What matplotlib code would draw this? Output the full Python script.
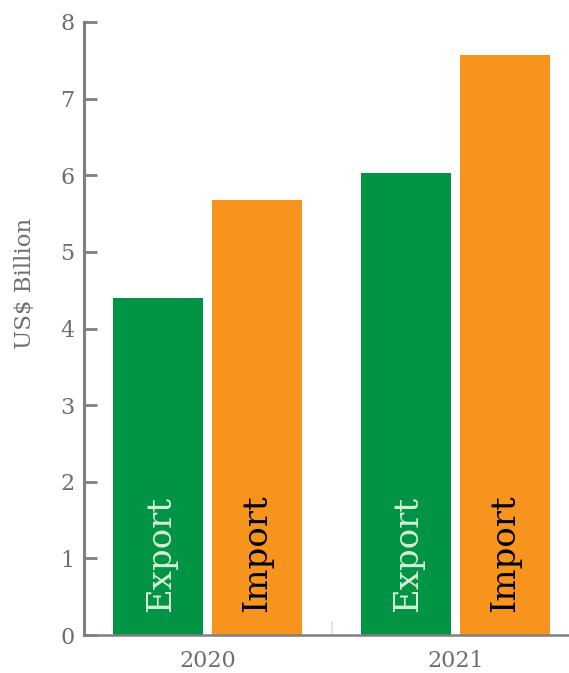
import numpy as np
import matplotlib.pyplot as plt

# trade values, US$ billion
years = ['2020', '2021']
export_vals = [4.40, 6.03]
import_vals = [5.68, 7.57]

green = '#009444'
orange = '#f7941d'
grey = '#7f7f80'

plt.rcParams['font.family'] = ['DejaVu Serif']

fig = plt.figure(figsize=(5.69, 6.73), dpi=100)
ax = fig.add_axes([84 / 569, 38 / 673, 485 / 569, 613 / 673])

x = np.arange(len(years))
w = 0.363
off = 0.2
ax.bar(x - off, export_vals, width=w, color=green)
ax.bar(x + off, import_vals, width=w, color=orange)

# series names written inside the bars
for xi in x:
    ax.text(xi - off + 0.01, 0.3, 'Export', rotation=90, ha='center', va='bottom',
            fontsize=24.5, color='#d6ecd9')
    ax.text(xi + off, 0.3, 'Import', rotation=90, ha='center', va='bottom',
            fontsize=24.5, color='black')

ax.set_xlim(-0.5, 1.458)
ax.set_ylim(0, 8)
ax.set_yticks(range(0, 9))

ax.set_xticks(x)
ax.set_xticklabels(years)
ax.set_xticks([0.5], minor=True)
ax.tick_params(axis='x', which='major', length=0, pad=11, labelsize=16, labelcolor='#6d6e71')
ax.tick_params(axis='x', which='minor', direction='in', length=10, width=1.5, color='#e6e6e6')
ax.tick_params(axis='y', direction='in', length=9, width=2, color=grey, pad=7,
               labelsize=16, labelcolor='#6d6e71')

for side in ['top', 'right']:
    ax.spines[side].set_visible(False)
ax.spines['left'].set_color(grey)
ax.spines['left'].set_linewidth(2.2)
ax.spines['bottom'].set_color(grey)
ax.spines['bottom'].set_linewidth(1.8)

fig.text(25 / 569, 1 - 283 / 673, 'US$ Billion', rotation=90, ha='center', va='center',
         fontsize=16.5, color='#6d6e71')

fig.savefig('out.png', dpi=100)
